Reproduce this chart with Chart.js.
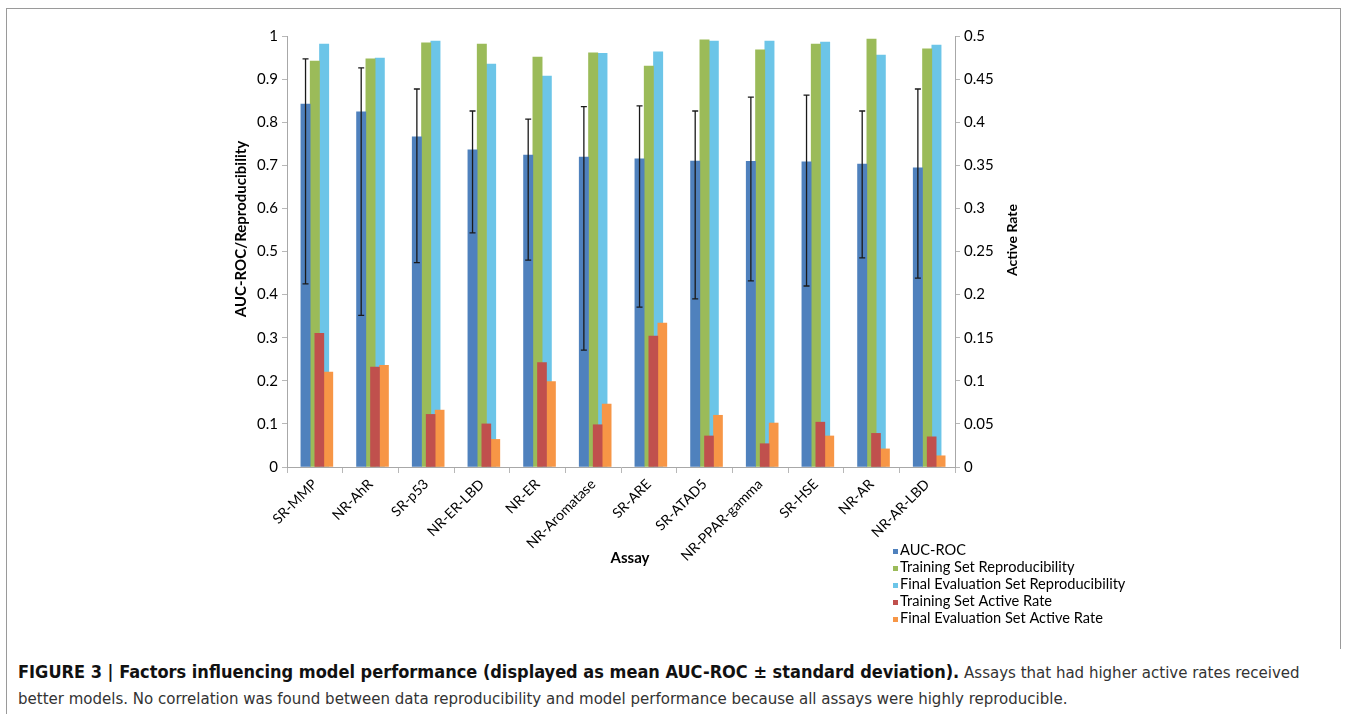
<!DOCTYPE html>
<html>
<head>
<meta charset="utf-8">
<script src="https://cdn.jsdelivr.net/npm/chart.js@4.4.1/dist/chart.umd.min.js"></script>
<style>
  html, body { margin: 0; padding: 0; background: #fff; }
  body { width: 1348px; height: 714px; position: relative; overflow: hidden; }
  #frame { position: absolute; left: 6px; top: 8px; width: 1334px; height: 640px;
           border-top: 1px solid #9a9a9a; border-right: 1px solid #9a9a9a; }
  #leftline { position: absolute; left: 6px; top: 8px; width: 0; height: 706px; border-left: 1px solid #9a9a9a; }
  #chart { position: absolute; left: 0; top: 0; }
  #caption { position: absolute; left: 18px; top: 659px; width: 1325px; white-space: nowrap;
             font-family: "DejaVu Sans Condensed", "Liberation Sans Narrow", sans-serif;
             font-size: 16.7px; line-height: 26px; color: #333; }
  #caption b { color: #111; font-size: 18px; }
</style>
</head>
<body>
<div id="frame"></div>
<div id="leftline"></div>
<canvas id="chart" width="1348" height="640"></canvas>
<div id="caption"><b>FIGURE 3 | Factors influencing model performance (displayed as mean AUC-ROC ± standard deviation).</b> Assays that had higher active rates received<br>better models. No correlation was found between data reproducibility and model performance because all assays were highly reproducible.</div>
<script>
const assays = ["SR-MMP", "NR-AhR", "SR-p53", "NR-ER-LBD", "NR-ER", "NR-Aromatase", "SR-ARE", "SR-ATAD5", "NR-PPAR-gamma", "SR-HSE", "NR-AR", "NR-AR-LBD"];

const auc_roc = [0.842, 0.824, 0.766, 0.736, 0.724, 0.719, 0.715, 0.710, 0.709, 0.708, 0.703, 0.694];
const auc_roc_upper = [0.947, 0.926, 0.877, 0.826, 0.807, 0.836, 0.838, 0.826, 0.858, 0.863, 0.826, 0.877];
const auc_roc_lower = [0.425, 0.352, 0.474, 0.543, 0.480, 0.271, 0.371, 0.390, 0.432, 0.420, 0.485, 0.438];

const training_reproducibility = [0.942, 0.947, 0.984, 0.981, 0.951, 0.961, 0.930, 0.991, 0.968, 0.981, 0.993, 0.970];
const final_reproducibility = [0.981, 0.949, 0.988, 0.935, 0.907, 0.960, 0.963, 0.988, 0.988, 0.986, 0.956, 0.979];

const training_active_rate = [0.155, 0.116, 0.061, 0.050, 0.121, 0.049, 0.152, 0.036, 0.027, 0.052, 0.039, 0.035];
const final_active_rate = [0.110, 0.118, 0.066, 0.032, 0.099, 0.073, 0.167, 0.060, 0.051, 0.036, 0.021, 0.013];

// newer 4.x builds place bars of different x axes side by side;
// here each x axis keeps its own centred group so the active-rate bars overlay the others
Chart.BarController.prototype._getAxisCount = function () { return 1; };

// error bars for the AUC-ROC series
const errorBars = {
    id: "errorBars",
    afterDatasetsDraw(chart)
    {
        const ctx = chart.ctx;
        const y = chart.scales.y;
        const meta = chart.getDatasetMeta(0);
        ctx.save();
        ctx.strokeStyle = "#1a1a1a";
        ctx.lineWidth = 1.3;
        meta.data.forEach((bar, i) =>
        {
            const top = y.getPixelForValue(auc_roc_upper[i]);
            const bottom = y.getPixelForValue(auc_roc_lower[i]);
            ctx.beginPath();
            ctx.moveTo(bar.x, top);
            ctx.lineTo(bar.x, bottom);
            ctx.moveTo(bar.x - 3, top);
            ctx.lineTo(bar.x + 3, top);
            ctx.moveTo(bar.x - 3, bottom);
            ctx.lineTo(bar.x + 3, bottom);
            ctx.stroke();
        });
        ctx.restore();
    }
};

// axis titles and the legend, placed like the Excel original
const titlesAndLegend = {
    id: "titlesAndLegend",
    afterDraw(chart)
    {
        const ctx = chart.ctx;
        ctx.save();
        ctx.fillStyle = "#000";
        ctx.font = "bold 15px Lato";
        ctx.textAlign = "center";
        ctx.textBaseline = "middle";

        ctx.save();
        ctx.translate(241, 229);
        ctx.rotate(-Math.PI / 2);
        ctx.fillText("AUC-ROC/Reproducibility", 0, 0);
        ctx.restore();

        ctx.font = "bold 14px Lato";
        ctx.save();
        ctx.translate(1012, 240);
        ctx.rotate(-Math.PI / 2);
        ctx.fillText("Active Rate", 0, 0);
        ctx.restore();

        ctx.font = "bold 15px Lato";
        ctx.fillText("Assay", 630, 558);

        ctx.font = "14.6px Lato";
        ctx.textAlign = "left";
        chart.data.datasets.forEach((ds, i) =>
        {
            const ly = 550 + i * 17;
            ctx.fillStyle = ds.backgroundColor;
            ctx.fillRect(893, ly - 1, 5, 5);
            ctx.fillStyle = "#000";
            ctx.fillText(ds.label, 900, ly);
        });
        ctx.restore();
    }
};

const tick_font = { family: "Lato", size: 15 };
const short_number = (v) => String(Math.round(v * 100) / 100);

new Chart("chart",
{
    type: "bar",
    data:
    {
        labels: assays,
        datasets:
        [
            { label: "AUC-ROC", data: auc_roc, backgroundColor: "#4F81BD", xAxisID: "x", yAxisID: "y", order: 1, barThickness: 9.3 },
            { label: "Training Set Reproducibility", data: training_reproducibility, backgroundColor: "#9BBB59", xAxisID: "x", yAxisID: "y", order: 1, barThickness: 9.3 },
            { label: "Final Evaluation Set Reproducibility", data: final_reproducibility, backgroundColor: "#6CC5E8", xAxisID: "x", yAxisID: "y", order: 1, barThickness: 9.3 },
            { label: "Training Set Active Rate", data: training_active_rate, backgroundColor: "#C0504D", xAxisID: "x2", yAxisID: "y2", order: 0, barThickness: 9 },
            { label: "Final Evaluation Set Active Rate", data: final_active_rate, backgroundColor: "#F79646", xAxisID: "x2", yAxisID: "y2", order: 0, barThickness: 9 }
        ]
    },
    options:
    {
        responsive: false,
        animation: false,
        devicePixelRatio: 1,
        layout: { padding: { left: 220, right: 300, top: 36, bottom: 70 } },
        plugins:
        {
            legend: { display: false },
            tooltip: { enabled: false }
        },
        scales:
        {
            x:
            {
                type: "category",
                offset: true,
                grid: { display: true, drawOnChartArea: false, offset: true, tickLength: 6, color: "#b8b8b8" },
                border: { color: "#a8a8a8" },
                ticks: { autoSkip: false, maxRotation: 45, minRotation: 45, color: "#000", font: { family: "Lato", size: 14 }, padding: 3 },
                afterFit: (s) => { s.height = 103; }
            },
            x2:
            {
                type: "category",
                offset: true,
                display: false
            },
            y:
            {
                position: "left",
                min: 0,
                max: 1,
                ticks: { stepSize: 0.1, color: "#000", font: tick_font, padding: 4, callback: short_number },
                grid: { drawOnChartArea: false, tickLength: 5, color: "#b8b8b8" },
                border: { color: "#a8a8a8" },
                afterFit: (s) => { s.width = 67; }
            },
            y2:
            {
                position: "right",
                min: 0,
                max: 0.5,
                ticks: { stepSize: 0.05, color: "#000", font: tick_font, padding: 4, callback: short_number },
                grid: { drawOnChartArea: false, tickLength: 5, color: "#b8b8b8" },
                border: { color: "#a8a8a8" },
                afterFit: (s) => { s.width = 93; }
            }
        }
    },
    plugins: [errorBars, titlesAndLegend]
});
</script>
</body>
</html>
